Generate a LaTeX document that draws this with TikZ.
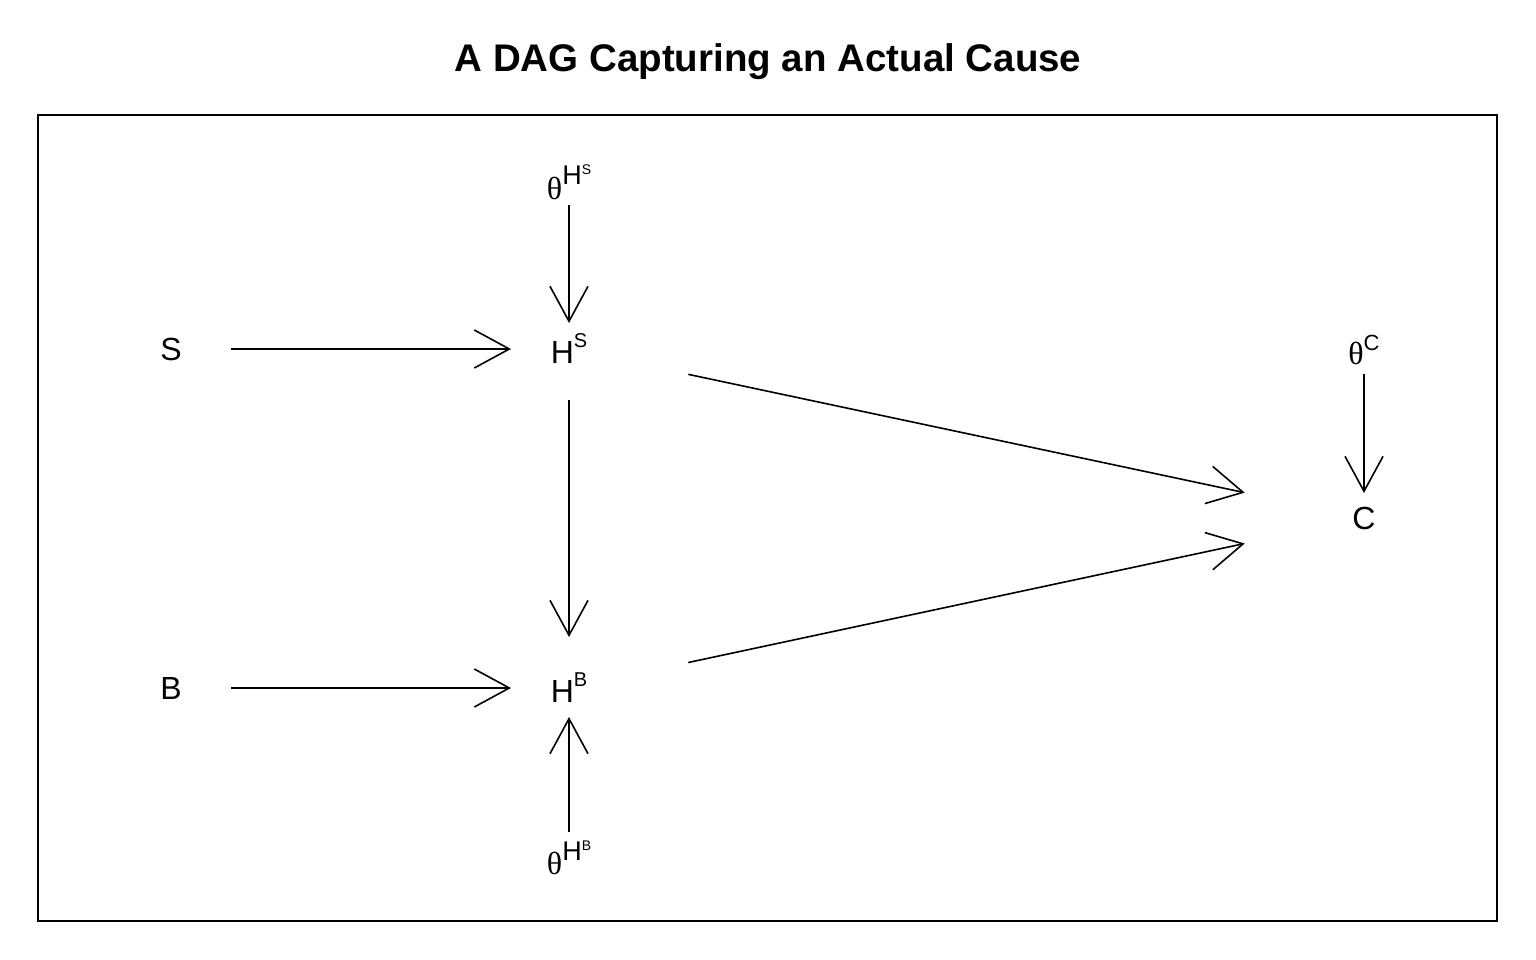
\documentclass[tikz,border=0pt]{standalone}
\usepackage{fontspec}
\setmainfont{Liberation Sans}
\newfontfamily\grk{Liberation Serif}
\usetikzlibrary{arrows.meta}
\newcommand{\sz}[1]{\fontsize{#1}{#1}\selectfont}
\newcommand{\thsym}{{\grk\sz{32}θ}}
\begin{document}
\begin{tikzpicture}[x=1pt,y=-1pt,
  lab/.style={inner sep=0pt,font=\sz{32}},
  arr/.style={line width=1.6pt,-{Straight Barb[length=35pt,width=38pt,line width=1.6pt]}},
  frame/.style={line width=1.4pt}]
\useasboundingbox (0,0) rectangle (1536,960);
\node[font=\bfseries\sz{38.5}] (title) at (768,62) {A DAG Capturing an Actual Cause};
\draw[frame] (38,115) rectangle (1497,921);
\node[lab] (S) at (171,349) {S};
\node[lab] (B) at (171,688) {B};
\node[lab] (HS) at (569,349) {H\raisebox{16pt}{\sz{20}S}};
\node[lab] (HB) at (569,688) {H\raisebox{16pt}{\sz{20}B}};
\node[lab] (C) at (1364,518) {C};
\node[lab] (thHS) at (569,182) {\thsym\raisebox{15pt}{\sz{27}H\raisebox{10pt}{\sz{14}S}}};
\node[lab] (thHB) at (569,858) {\thsym\raisebox{14pt}{\sz{27}H\raisebox{10pt}{\sz{14}B}}};
\node[lab] (thC) at (1364,350) {\thsym\raisebox{14pt}{\sz{22}C}};
\draw[arr,shorten <=60pt,shorten >=58pt] (S.center) -- (HS.center);
\draw[arr,shorten <=60pt,shorten >=58pt] (B.center) -- (HB.center);
\draw[arr,shorten <=23pt,shorten >=26pt] (thHS.center) -- (HS.center);
\draw[arr,shorten <=51pt,shorten >=51pt] (HS.center) -- (HB.center);
\draw[arr,shorten <=26pt,shorten >=29pt] (thHB.center) -- (HB.center);
\draw[arr,shorten <=122pt,shorten >=122pt] (HS.center) -- (C.center);
\draw[arr,shorten <=122pt,shorten >=122pt] (HB.center) -- (C.center);
\draw[arr,shorten <=24pt,shorten >=25pt] (thC.center) -- (C.center);
\end{tikzpicture}
\end{document}
